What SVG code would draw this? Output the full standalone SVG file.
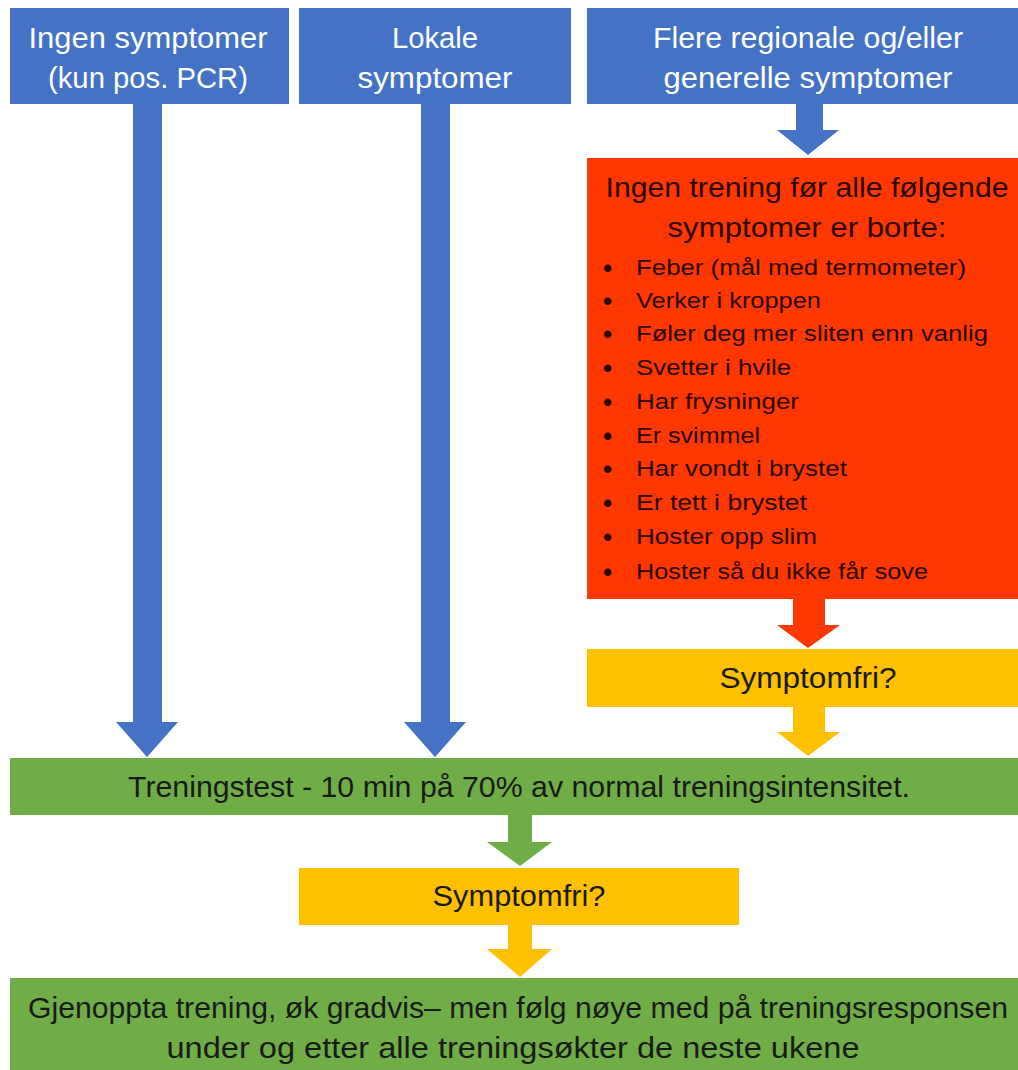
<svg xmlns="http://www.w3.org/2000/svg" width="1018" height="1070" viewBox="0 0 1018 1070">
<style>
.blue{fill:#4472C4}.red{fill:#FF3700}.yel{fill:#FFC000}.grn{fill:#70AD47}
text{font-family:"Liberation Sans Narrow","Liberation Sans",Arial,sans-serif}
.wt{fill:#ffffff;font-size:29px;text-anchor:middle}
.dk{fill:#1a1a1a;font-size:29px;text-anchor:middle}
.rt{fill:#2a0800;font-size:28px;text-anchor:middle}
.li{fill:#2a0800;font-size:22px}
.bu{fill:#2a0800;font-size:26px;font-weight:bold}
</style>
<rect width="1018" height="1070" fill="#ffffff"/>
<g id="connectors">
<path class="blue" d="M133 104H162V722H178L147 757L116 722H133Z"/>
<path class="blue" d="M421 104H450V722H466L435 757L404 722H421Z"/>
<path class="blue" d="M796 104H823V130H839L808 155L777 130H796Z"/>
<path class="red" d="M793 599H825V625H840L808 648L777 625H793Z"/>
<path class="yel" d="M793 707H825V732H840L808 756L777 732H793Z"/>
<path class="grn" d="M508 815H532V842H552L520 866L487 842H508Z"/>
<path class="yel" d="M508 925H532V949H552L520 977L487 949H508Z"/>
</g>
<g id="node-ingen">
<rect class="blue" x="10" y="8" width="279" height="96"/>
<text class="wt" x="148" y="48" textLength="239" lengthAdjust="spacingAndGlyphs">Ingen symptomer</text>
<text class="wt" x="148" y="88" textLength="200" lengthAdjust="spacingAndGlyphs">(kun pos. PCR)</text>
</g>
<g id="node-lokale">
<rect class="blue" x="299" y="8" width="272" height="96"/>
<text class="wt" x="435" y="48" textLength="86" lengthAdjust="spacingAndGlyphs">Lokale</text>
<text class="wt" x="435" y="88" textLength="155" lengthAdjust="spacingAndGlyphs">symptomer</text>
</g>
<g id="node-flere">
<rect class="blue" x="587" y="8" width="431" height="96"/>
<text class="wt" x="808" y="48" textLength="310" lengthAdjust="spacingAndGlyphs">Flere regionale og/eller</text>
<text class="wt" x="808" y="88" textLength="289" lengthAdjust="spacingAndGlyphs">generelle symptomer</text>
</g>
<g id="node-ingen-trening">
<rect class="red" x="587" y="158" width="431" height="441"/>
<text class="rt" x="807" y="197" textLength="403" lengthAdjust="spacingAndGlyphs">Ingen trening før alle følgende</text>
<text class="rt" x="807" y="237" textLength="279" lengthAdjust="spacingAndGlyphs">symptomer er borte:</text>
<g class="bu">
<text x="603" y="277">•</text>
<text x="603" y="310">•</text>
<text x="603" y="343">•</text>
<text x="603" y="377">•</text>
<text x="603" y="411">•</text>
<text x="603" y="445">•</text>
<text x="603" y="478">•</text>
<text x="603" y="512">•</text>
<text x="603" y="546">•</text>
<text x="603" y="581">•</text>
</g>
<g class="li">
<text x="636" y="275" textLength="330" lengthAdjust="spacingAndGlyphs">Feber (mål med termometer)</text>
<text x="636" y="308" textLength="185" lengthAdjust="spacingAndGlyphs">Verker  i kroppen</text>
<text x="636" y="341" textLength="352" lengthAdjust="spacingAndGlyphs">Føler deg mer sliten enn vanlig</text>
<text x="636" y="375" textLength="155" lengthAdjust="spacingAndGlyphs">Svetter  i hvile</text>
<text x="636" y="409" textLength="163" lengthAdjust="spacingAndGlyphs">Har frysninger</text>
<text x="636" y="443" textLength="124" lengthAdjust="spacingAndGlyphs">Er svimmel</text>
<text x="636" y="476" textLength="211" lengthAdjust="spacingAndGlyphs">Har vondt  i brystet</text>
<text x="636" y="510" textLength="171" lengthAdjust="spacingAndGlyphs">Er tett  i brystet</text>
<text x="636" y="544" textLength="181" lengthAdjust="spacingAndGlyphs">Hoster opp  slim</text>
<text x="636" y="579" textLength="292" lengthAdjust="spacingAndGlyphs">Hoster så du ikke får sove</text>
</g>
</g>
<g id="node-symptomfri-1">
<rect class="yel" x="587" y="649" width="431" height="58"/>
<text class="dk" x="808" y="688" textLength="177" lengthAdjust="spacingAndGlyphs">Symptomfri?</text>
</g>
<g id="node-treningstest">
<rect class="grn" x="10" y="758" width="1008" height="57"/>
<text class="dk" x="519" y="797" textLength="782" lengthAdjust="spacingAndGlyphs">Treningstest - 10 min på 70% av normal treningsintensitet.</text>
</g>
<g id="node-symptomfri-2">
<rect class="yel" x="299" y="868" width="440" height="57"/>
<text class="dk" x="519" y="906" textLength="173" lengthAdjust="spacingAndGlyphs">Symptomfri?</text>
</g>
<g id="node-gjenoppta">
<rect class="grn" x="10" y="978" width="1008" height="92"/>
<text class="dk" x="518" y="1018" textLength="980" lengthAdjust="spacingAndGlyphs">Gjenoppta trening, øk gradvis– men følg nøye med på treningsresponsen</text>
<text class="dk" x="513" y="1058" textLength="693" lengthAdjust="spacingAndGlyphs">under og etter alle treningsøkter de neste ukene</text>
</g>
</svg>
